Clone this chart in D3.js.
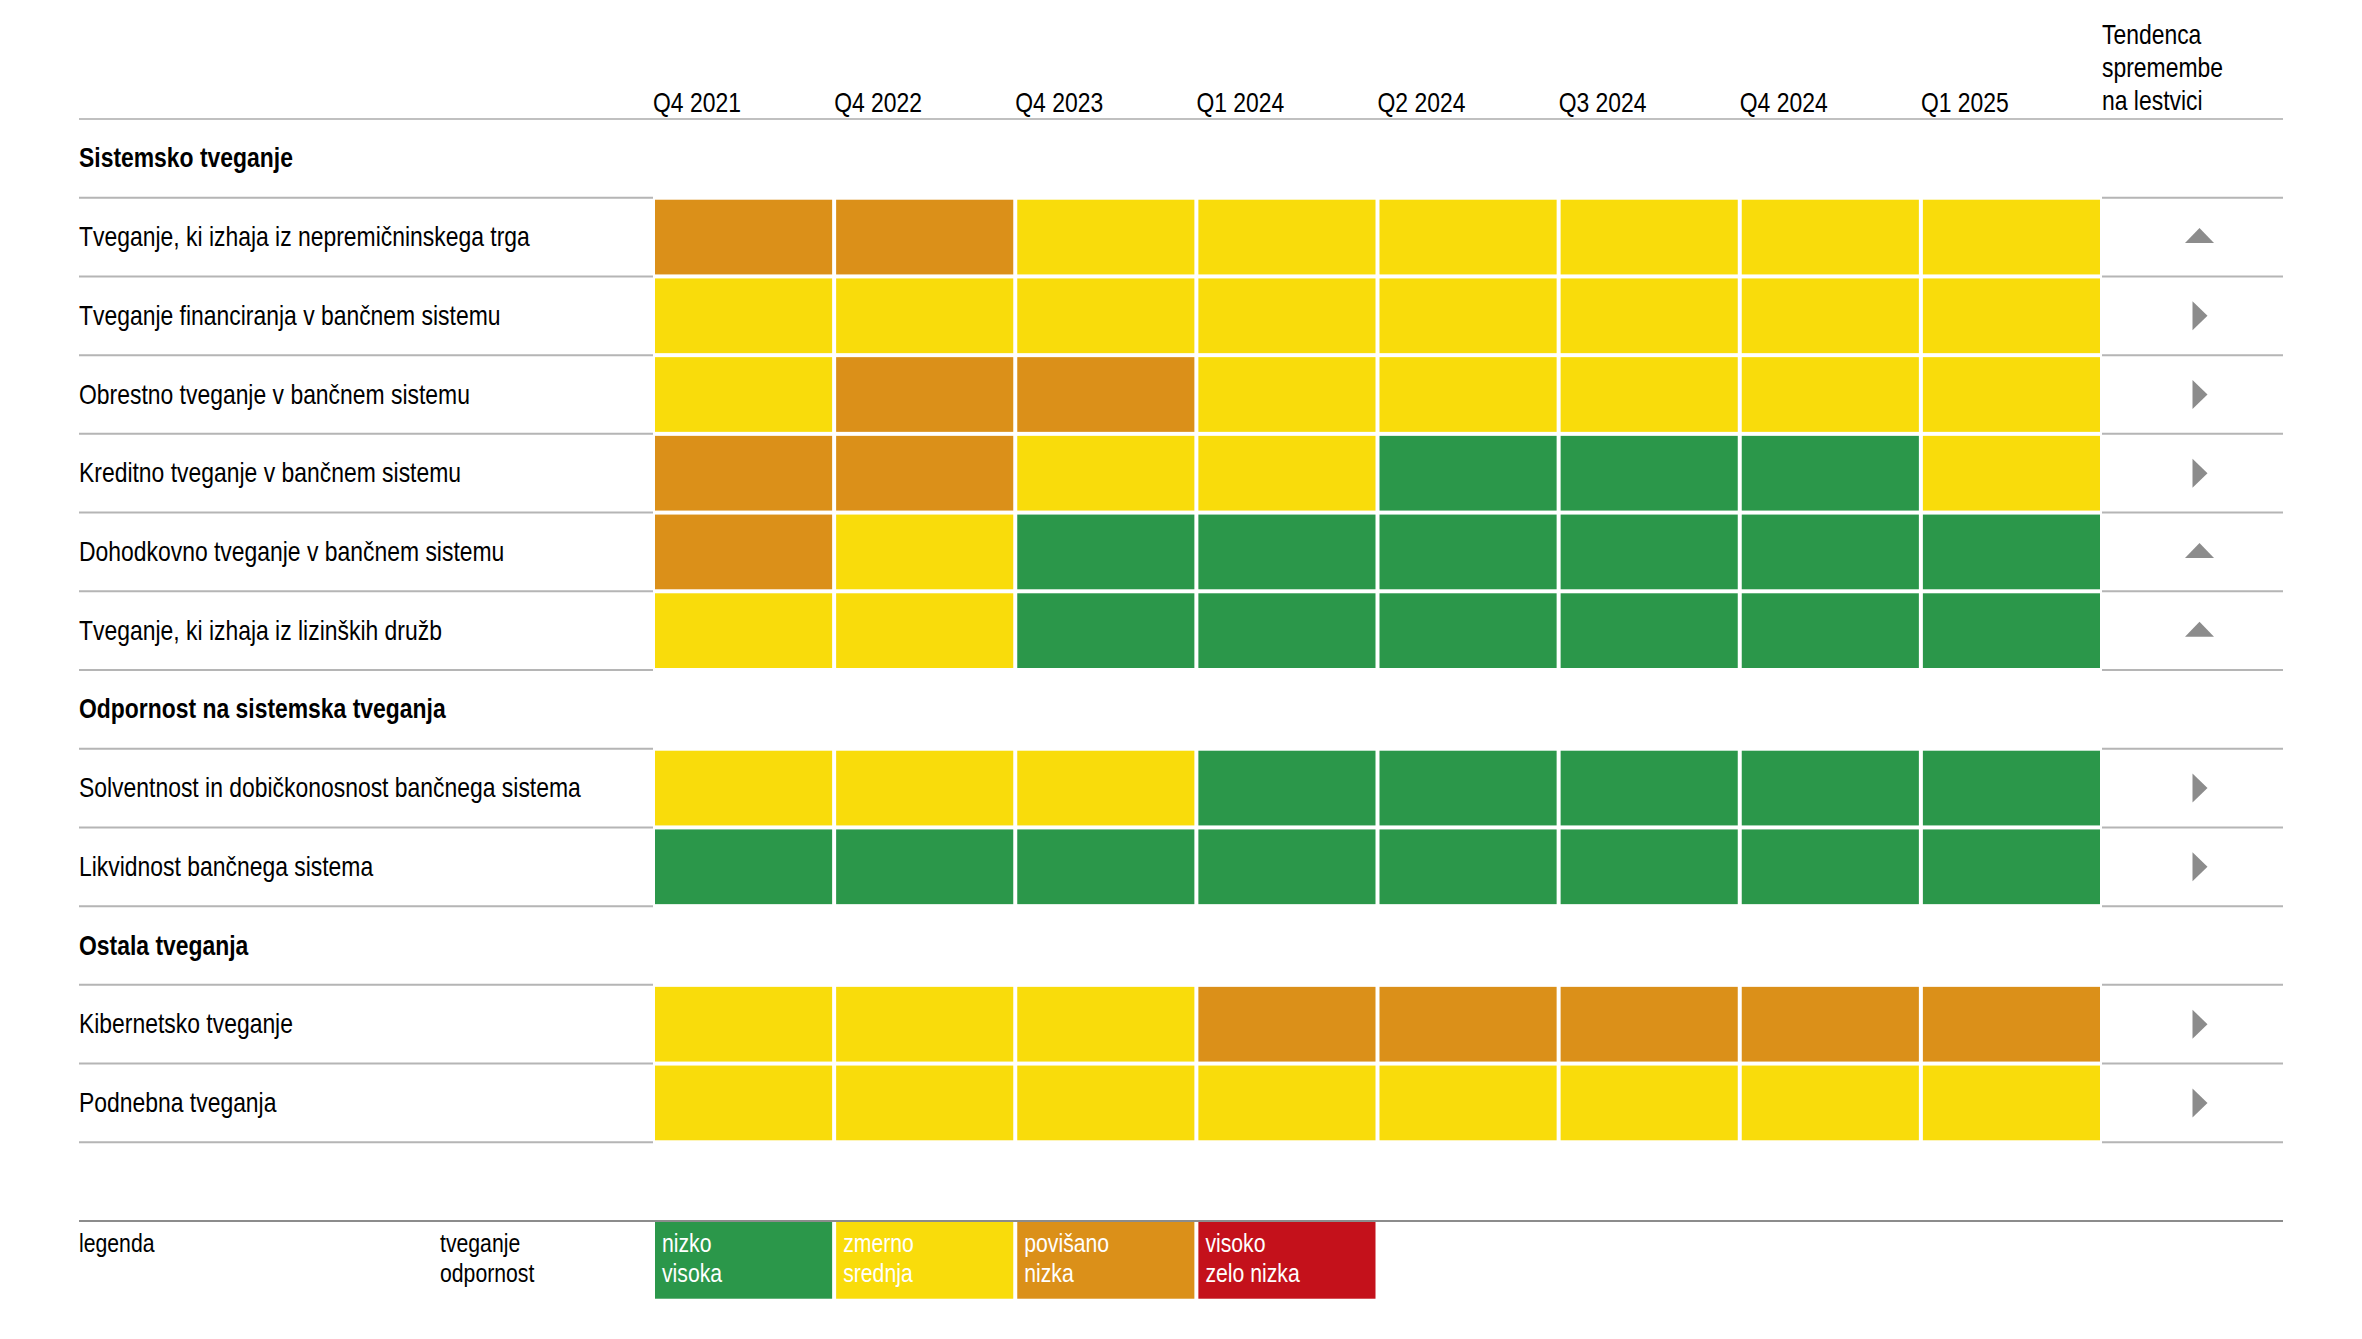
<!DOCTYPE html>
<html>
<head>
<meta charset="utf-8">
<script src="https://cdn.jsdelivr.net/npm/d3@7"></script>
<style>
  html, body { margin: 0; padding: 0; background: #fff; }
  svg { display: block; }
</style>
</head>
<body>
<svg id="chart" width="2362" height="1339"></svg>
<script>
// ---------- DATA ----------
const quarters = ["Q4 2021", "Q4 2022", "Q4 2023", "Q1 2024", "Q2 2024", "Q3 2024", "Q4 2024", "Q1 2025"];
const trendHeader = ["Tendenca", "spremembe", "na lestvici"];

// level: 1 = nizko/visoka (green), 2 = zmerno/srednja (yellow), 3 = povišano/nizka (orange), 4 = visoko/zelo nizka (red)
const sections = ["Sistemsko tveganje", "Odpornost na sistemska tveganja", "Ostala tveganja"];
const rowLabels = [
  "Tveganje, ki izhaja iz nepremičninskega trga",
  "Tveganje financiranja v bančnem sistemu",
  "Obrestno tveganje v bančnem sistemu",
  "Kreditno tveganje v bančnem sistemu",
  "Dohodkovno tveganje v bančnem sistemu",
  "Tveganje, ki izhaja iz lizinških družb",
  "Solventnost in dobičkonosnost bančnega sistema",
  "Likvidnost bančnega sistema",
  "Kibernetsko tveganje",
  "Podnebna tveganja"
];
const rowSection = [0, 0, 0, 0, 0, 0, 1, 1, 2, 2];
const rowLevels = [
  [3, 3, 2, 2, 2, 2, 2, 2],
  [2, 2, 2, 2, 2, 2, 2, 2],
  [2, 3, 3, 2, 2, 2, 2, 2],
  [3, 3, 2, 2, 1, 1, 1, 2],
  [3, 2, 1, 1, 1, 1, 1, 1],
  [2, 2, 1, 1, 1, 1, 1, 1],
  [2, 2, 2, 1, 1, 1, 1, 1],
  [1, 1, 1, 1, 1, 1, 1, 1],
  [2, 2, 2, 3, 3, 3, 3, 3],
  [2, 2, 2, 2, 2, 2, 2, 2]
];
const rowTrend = ["up", "right", "right", "right", "up", "up", "right", "right", "right", "right"];

const legendTitle = "legenda";
const legendKinds = ["tveganje", "odpornost"];
const legendLevels = [1, 2, 3, 4];
const legendRisk = ["nizko", "zmerno", "povišano", "visoko"];
const legendRes = ["visoka", "srednja", "nizka", "zelo nizka"];

// ---------- STYLE ----------
const levelColor = d3.scaleOrdinal().domain([1, 2, 3, 4]).range(["#2b974a", "#f9dc0b", "#db9019", "#c4111b"]);
const FONT = "'Liberation Sans', Arial, sans-serif";

// ---------- LAYOUT ----------
const svg = d3.select("#chart");
const left = 79, right = 2283;
const gridLeft = 653, gridRight = 2102;
const top0 = 119, rowH = (1221 - 119) / 14;

// build ordered list of table rows
const layout = [];
let lastSec = -1;
rowLabels.forEach((lab, i) => {
  if (rowSection[i] !== lastSec) {
    layout.push({ type: "section", label: sections[rowSection[i]] });
    lastSec = rowSection[i];
  }
  layout.push({ type: "row", label: lab, levels: rowLevels[i], trend: rowTrend[i] });
});
layout.push({ type: "blank" });
layout.push({ type: "legend" });

const x = d3.scaleBand().domain(quarters).range([gridLeft, gridRight]);
const y = d3.scaleBand().domain(d3.range(layout.length)).range([top0, top0 + rowH * layout.length]);
const trendX = (gridRight + right) / 2 + 7;

// condensed look: horizontally compress the regular sans to narrow proportions
const probe = svg.append("text").attr("font-family", FONT).attr("font-size", 27)
  .text("Solventnost in dobičkonosnost bančnega sistema");
const sx = 502 / probe.node().getComputedTextLength();
probe.remove();

function addText(g, tx, ty, str, opts = {}) {
  return g.append("text")
    .attr("transform", `translate(${tx},${ty}) scale(${sx},1)`)
    .attr("font-family", FONT)
    .attr("font-size", opts.size || 27)
    .attr("font-weight", opts.weight || "normal")
    .attr("fill", opts.fill || "#000")
    .attr("text-anchor", opts.anchor || "start")
    .text(str);
}

const gLines = svg.append("g");
const gCells = svg.append("g");
const gText = svg.append("g");

// header line (full width)
gLines.append("line").attr("x1", left).attr("x2", right).attr("y1", top0).attr("y2", top0)
  .attr("stroke", "#c0c0c0").attr("stroke-width", 2);

// row lines (label area and trend area); legend line full width
layout.forEach((d, i) => {
  if (i === 0) return;
  const yy = y(i);
  if (d.type === "legend") {
    gLines.append("line").attr("x1", left).attr("x2", right).attr("y1", yy).attr("y2", yy)
      .attr("stroke", "#8c8c8c").attr("stroke-width", 2);
  } else {
    [[left, gridLeft], [gridRight, right]].forEach(([a, b]) => {
      gLines.append("line").attr("x1", a).attr("x2", b).attr("y1", yy).attr("y2", yy)
        .attr("stroke", "#b5b5b5").attr("stroke-width", 2);
    });
  }
});

// column headers
quarters.forEach(q => addText(gText, x(q), 112, q));
trendHeader.forEach((s, i) => addText(gText, gridRight, 44 + i * 33, s));

// rows
layout.forEach((d, i) => {
  const cy = y(i) + rowH / 2;
  if (d.type === "section") {
    addText(gText, left, cy + 9, d.label, { weight: "bold" });
  } else if (d.type === "row") {
    addText(gText, left, cy + 9, d.label);
    gCells.selectAll(null).data(d.levels.map((v, j) => ({ q: quarters[j], v }))).enter()
      .append("rect")
      .attr("x", c => x(c.q) + 2)
      .attr("y", y(i) + 2)
      .attr("width", x.bandwidth() - 4)
      .attr("height", rowH - 4)
      .attr("fill", c => levelColor(c.v));
    const tri = d.trend === "up"
      ? [[trendX - 14.5, cy + 6], [trendX + 14.5, cy + 6], [trendX, cy - 9]]
      : [[trendX - 7, cy - 14.5], [trendX - 7, cy + 14.5], [trendX + 8, cy]];
    gCells.append("path").attr("d", d3.line()(tri) + "Z").attr("fill", "#8c8c8c");
  } else if (d.type === "legend") {
    const yy = y(i);
    addText(gText, left, yy + 31, legendTitle, { size: 25 });
    legendKinds.forEach((k, m) => addText(gText, 440, yy + 31 + m * 30, k, { size: 25 }));
    legendLevels.forEach((lv, j) => {
      const q = quarters[j];
      gCells.append("rect")
        .attr("x", x(q) + 2).attr("y", yy + 1)
        .attr("width", x.bandwidth() - 4).attr("height", rowH - 2)
        .attr("fill", levelColor(lv));
      addText(gText, x(q) + 9, yy + 31, legendRisk[j], { size: 25, fill: "#fff" });
      addText(gText, x(q) + 9, yy + 61, legendRes[j], { size: 25, fill: "#fff" });
    });
  }
});
</script>
</body>
</html>
